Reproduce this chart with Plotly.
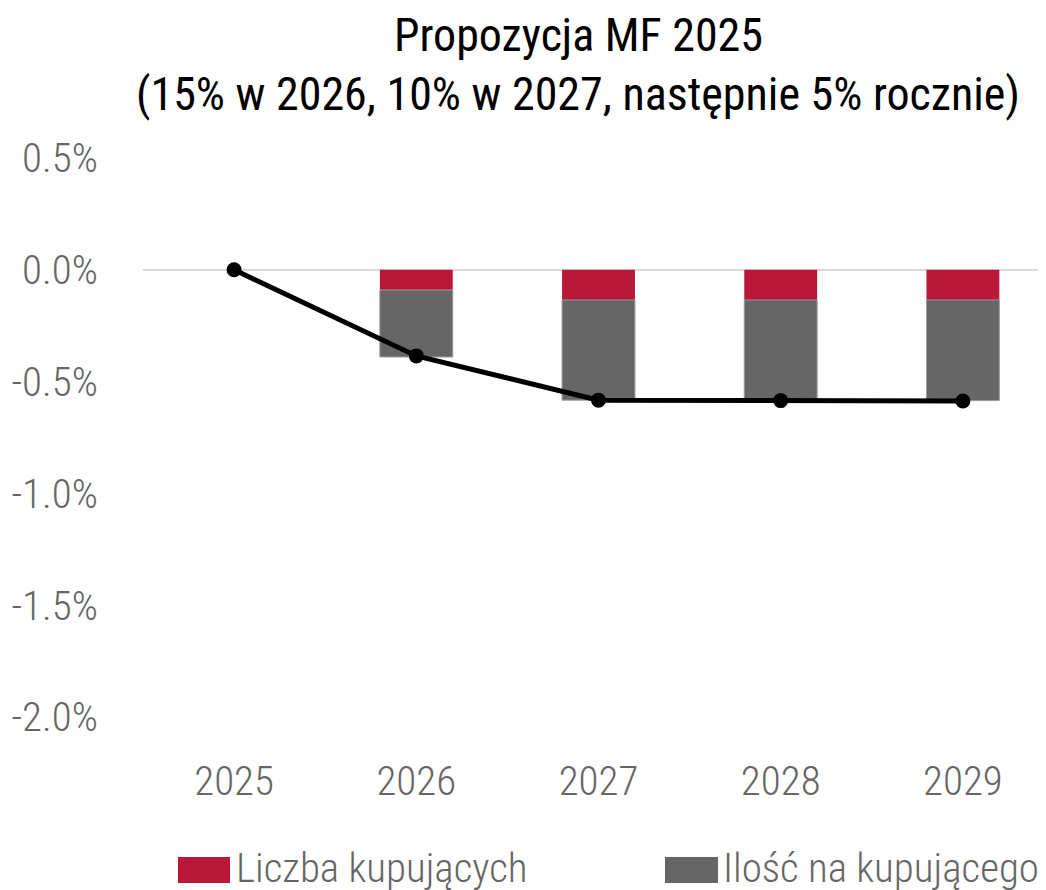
import plotly.graph_objects as go

years = ["2025", "2026", "2027", "2028", "2029"]
liczba_kupujacych = [None, -0.09, -0.135, -0.135, -0.135]
ilosc_na_kupujacego = [None, -0.30, -0.448, -0.448, -0.450]
suma = [0.0, -0.385, -0.583, -0.585, -0.587]
y_ticks = [0.5, 0.0, -0.5, -1.0, -1.5, -2.0]
y_tick_text = ["0.5%", "0.0%", "-0.5%", "-1.0%", "-1.5%", "-2.0%"]
title_lines = ["Propozycja MF 2025", "(15% w 2026, 10% w 2027, następnie 5% rocznie)"]
legend_names = ["Liczba kupujących", "Ilość na kupującego"]

RED = "#BA1838"
GRAY = "#666666"
FONT = "Roboto Condensed, Liberation Sans Narrow, Roboto, sans-serif"

W, H = 1046, 890
OFF = 8  # page body margin
L, R, T, B = 135, 0, 150, 181
pw, ph = W - L - R, H - T - B

def px_x(p):
    return (p - OFF - L) / pw

def px_y(p):
    return (H - B - (p - OFF)) / ph

fig = go.Figure()
fig.add_trace(go.Bar(x=years, y=liczba_kupujacych, name=legend_names[0],
                     marker=dict(color=RED, line=dict(width=0)), width=0.4, showlegend=False))
fig.add_trace(go.Bar(x=years, y=ilosc_na_kupujacego, name=legend_names[1],
                     marker=dict(color=GRAY, line=dict(width=1, color="#9a9a9a")), width=0.4, showlegend=False))
fig.add_trace(go.Scatter(x=years, y=suma, mode="lines+markers",
                         line=dict(color="black", width=5),
                         marker=dict(color="black", size=15), showlegend=False))

annotations = []
for txt, py in zip(title_lines, [35, 94]):
    annotations.append(dict(text=txt, x=px_x(578), y=px_y(py), xref="paper", yref="paper",
                            xanchor="center", yanchor="middle", showarrow=False,
                            font=dict(family=FONT, size=46, color="black")))
# manual legend
shapes = []
leg = [(178, 230, 234, RED, legend_names[0]), (665, 718, 721, GRAY, legend_names[1])]
for x0, x1, xt, col, name in leg:
    shapes.append(dict(type="rect", xref="paper", yref="paper",
                       x0=px_x(x0), x1=px_x(x1), y0=px_y(883), y1=px_y(857),
                       fillcolor=col, line=dict(width=0)))
    annotations.append(dict(text=name, x=px_x(xt), y=px_y(868), xref="paper", yref="paper",
                            xanchor="left", yanchor="middle", showarrow=False,
                            font=dict(family=FONT, size=41, color="#666666", weight=300)))

fig.update_layout(
    width=W, height=H, barmode="relative",
    margin=dict(l=L, r=R, t=T, b=B, pad=0),
    plot_bgcolor="white", paper_bgcolor="white",
    font=dict(family=FONT, color="#666666"),
    annotations=annotations, shapes=shapes,
    showlegend=False,
)
fig.update_xaxes(range=[-0.5, 4.5], showgrid=False, zeroline=False, showline=False,
                 ticks="", tickfont=dict(size=41, color="#666666", family=FONT, weight=300),
                 ticklabelstandoff=36)
fig.update_yaxes(range=[-2.0, 0.5], tickvals=y_ticks, ticktext=y_tick_text, showgrid=False,
                 zeroline=True, zerolinecolor="#d9d9d9", zerolinewidth=2, showline=False,
                 ticks="", tickfont=dict(size=41, color="#666666", family=FONT, weight=300),
                 ticklabelstandoff=44)

fig.write_html("out.html")
